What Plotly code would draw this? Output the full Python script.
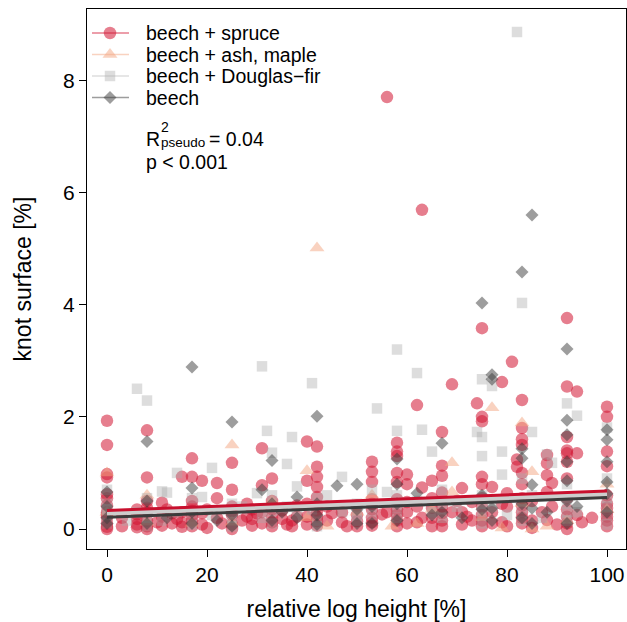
import plotly.graph_objects as go

# knot surface vs relative log height, per mixture type
spruce_height = [
    0, 0, 0, 0, 0, 0, 0, 0, 0, 0, 0, 0, 0,
    3, 3,
    6, 6, 6, 6, 6,
    8, 8, 8, 8, 8, 8, 8, 8,
    10,
    11, 11, 11,
    12,
    13, 13,
    14,
    15, 15, 15, 15,
    17, 17, 17, 17, 17, 17, 17, 17,
    19, 19, 19,
    20, 20,
    22, 22, 22,
    23,
    25, 25, 25, 25, 25, 25, 25,
    27,
    28, 28,
    29, 29, 29,
    30,
    31, 31, 31, 31,
    33, 33, 33, 33, 33, 33,
    35, 35,
    36,
    37, 37,
    38, 38,
    40, 40, 40, 40, 40,
    42, 42, 42, 42, 42, 42, 42, 42, 42, 42,
    44, 44,
    45,
    47, 47,
    48,
    50, 50, 50, 50,
    53, 53, 53, 53, 53, 53, 53, 53, 53,
    55,
    56, 56,
    58, 58, 58, 58, 58, 58, 58, 58, 58, 58,
    60, 60, 60, 60, 60,
    62, 62, 62,
    63, 63, 63,
    65, 65, 65, 65, 65,
    67, 67, 67, 67, 67, 67, 67, 67,
    69, 69,
    70,
    71, 71, 71,
    72,
    73, 73,
    74,
    75, 75, 75, 75, 75, 75, 75, 75, 75, 75,
    77, 77, 77,
    79, 79, 79,
    80, 80, 80,
    81,
    82, 82,
    83, 83, 83, 83, 83, 83, 83, 83, 83, 83, 83,
    85, 85, 85,
    87,
    88, 88, 88, 88, 88,
    89, 89,
    90,
    92, 92, 92, 92, 92, 92, 92, 92, 92, 92, 92, 92,
    94, 94, 94,
    95,
    97,
    100, 100, 100, 100, 100, 100, 100, 100, 100, 100, 100,
]
spruce_knot = [
    1.93, 1.50, 0.98, 0.92, 0.55, 0.42, 0.30, 0.20, 0.10, 0.04, 0.62, 0.25, 0.00,
    0.20, 0.05,
    0.35, 0.18, 0.08, 0.03, 0.26,
    1.76, 0.92, 0.50, 0.30, 0.15, 0.05, 0.38, 0.00,
    0.12,
    0.47, 0.22, 0.06,
    0.35,
    0.28, 0.10,
    0.18,
    0.93, 0.30, 0.12, 0.04,
    1.26, 0.93, 0.50, 0.32, 0.15, 0.05, 0.40, 0.24,
    0.86, 0.28, 0.08,
    0.35, 0.02,
    0.82, 0.55, 0.20,
    0.10,
    1.18, 0.70, 0.40, 0.25, 0.08, 0.32, 0.00,
    0.15,
    0.45, 0.22,
    0.35, 0.18, 0.06,
    0.28,
    1.44, 0.78, 0.30, 0.10,
    0.90, 0.50, 0.20, 0.05, 0.35, 0.12,
    0.33, 0.18,
    0.08,
    0.15, 0.05,
    0.42, 0.22,
    1.56, 0.86, 0.45, 0.22, 0.08,
    1.47, 1.11, 0.93, 0.75, 0.57, 0.40, 0.22, 0.06, 0.32, 0.14,
    0.40, 0.15,
    0.28,
    0.30, 0.12,
    0.05,
    0.25, 0.05, 0.42, 0.14,
    1.20, 1.02, 0.84, 0.53, 0.35, 0.20, 0.06, 0.45, 0.12,
    0.26,
    7.70, 0.30,
    1.54, 1.38, 1.30, 1.00, 0.84, 0.53, 0.35, 0.15, 0.05, 0.25,
    0.97, 0.80, 0.30, 0.10, 0.48,
    2.21, 0.40, 0.12,
    5.69, 0.74, 0.20,
    0.86, 0.20, 0.05, 0.38, 0.55,
    1.73, 1.13, 0.95, 0.65, 0.40, 0.15, 0.28, 0.05,
    2.58, 0.30,
    0.50,
    0.73, 0.30, 0.08,
    0.22,
    0.48, 0.15,
    2.24,
    3.58, 2.00, 1.92, 0.93, 0.80, 0.55, 0.25, 0.05, 0.40, 0.15,
    0.75, 0.30, 0.10,
    2.62, 0.45, 0.12,
    0.64, 0.40, 0.05,
    2.98,
    1.11, 1.24,
    2.30, 1.80, 1.60, 1.50, 1.00, 0.80, 0.55, 0.30, 0.10, 0.42, 0.20,
    0.50, 0.15, 0.02,
    0.30,
    1.32, 1.17, 0.96, 0.66, 0.16,
    0.82, 0.40,
    0.08,
    3.76, 2.54, 1.64, 1.40, 1.35, 1.20, 0.90, 0.55, 0.35, 0.10, 0.22, 0.00,
    2.45, 1.35, 0.25,
    0.12,
    0.20,
    2.18, 2.00, 1.38, 1.12, 0.60, 0.45, 0.30, 0.15, 0.05, 0.22, 0.38,
]

ash_height = [
    0, 0,
    8, 8,
    17,
    25, 25,
    33,
    40, 40,
    42,
    44,
    50,
    53,
    57,
    62,
    65,
    69, 69,
    75,
    77,
    79,
    83, 83,
    85, 85,
    88,
    92,
    100, 100,
]
ash_knot = [
    1.00, 0.30,
    0.60, 0.12,
    0.10,
    1.50, 0.12,
    0.50,
    1.04, 0.20,
    5.01,
    0.05,
    0.30,
    0.60,
    0.05,
    0.10,
    0.35,
    1.18, 0.66,
    0.20,
    2.16,
    0.02,
    1.89, 0.45,
    1.02, 0.00,
    0.05,
    0.15,
    0.35, 0.80,
]

douglas_height = [
    0, 0, 0, 0, 0,
    4,
    6, 6,
    8, 8, 8, 8,
    11, 11,
    12,
    14, 14,
    17, 17, 17,
    19,
    21, 21,
    25, 25, 25,
    27,
    30,
    31, 31,
    32,
    33, 33, 33, 33,
    36, 36,
    37,
    38, 38,
    41, 41,
    42, 42, 42,
    44,
    47, 47,
    50, 50, 50,
    53, 53,
    54,
    56,
    58, 58, 58, 58, 58,
    62, 62,
    63,
    65, 65,
    67, 67, 67,
    70,
    74,
    75, 75, 75, 75, 75, 75, 75,
    77, 77,
    79, 79,
    80,
    82,
    83, 83, 83, 83,
    85, 85,
    87,
    88,
    89,
    92, 92, 92, 92, 92,
    94, 94,
    100, 100, 100, 100, 100, 100,
]
douglas_knot = [
    0.70, 0.45, 0.25, 0.10, 0.35,
    0.15,
    2.50, 0.30,
    2.29, 0.55, 0.20, 0.05,
    0.67, 0.15,
    0.65,
    1.00, 0.30,
    0.55, 0.08, 0.28,
    0.57,
    1.09, 0.25,
    0.45, 0.05, 0.20,
    0.40,
    0.64,
    2.90, 0.20,
    1.75,
    1.36, 0.60, 0.10, 0.32,
    1.16, 0.40,
    1.64,
    0.76, 0.25,
    2.60, 0.35,
    0.55, 0.15, 0.05,
    0.60,
    0.93, 0.30,
    0.45, 0.15, 0.25,
    0.70, 0.25,
    2.15,
    0.66,
    3.20, 1.75, 0.60, 0.20, 0.38,
    2.78, 0.50,
    1.77,
    1.38, 0.30,
    0.70, 0.20, 0.45,
    0.40,
    1.73,
    2.67, 1.64, 1.30, 0.60, 0.30, 0.10, 0.45,
    2.55, 0.40,
    1.38, 0.97,
    0.25,
    8.86,
    4.03, 0.90, 0.35, 0.15,
    1.73, 0.60,
    0.20,
    1.33,
    1.18,
    2.24, 0.80, 0.45, 0.15, 0.30,
    2.02, 0.30,
    1.81, 0.90, 0.55, 0.25, 0.08, 0.40,
]

beech_height = [
    0, 0, 0, 0,
    8, 8, 8, 8,
    12,
    17, 17, 17, 17,
    22,
    25, 25, 25,
    31,
    33, 33, 33,
    35,
    38, 38,
    42, 42, 42, 42,
    46,
    50, 50, 50,
    53, 53,
    58, 58, 58, 58,
    62,
    65,
    67, 67,
    71,
    75, 75, 75,
    77, 77, 77, 77,
    83, 83, 83, 83, 83,
    85, 85, 85, 85,
    88,
    92, 92, 92, 92, 92, 92, 92,
    94,
    100, 100, 100, 100, 100, 100,
]
beech_knot = [
    0.66, 0.40, 0.20, 0.10,
    1.56, 0.50, 0.30, 0.10,
    0.20,
    2.89, 0.73, 0.30, 0.10,
    0.15,
    1.91, 0.25, 0.05,
    0.70,
    1.22, 0.45, 0.15,
    0.30,
    0.57, 0.20,
    2.01, 0.45, 0.25, 0.08,
    0.77,
    0.80, 0.35, 0.10,
    0.40, 0.10,
    1.25, 0.80, 0.45, 0.15,
    0.64,
    0.25,
    1.53, 0.30,
    0.20,
    4.03, 0.60, 0.35,
    2.75, 2.67, 0.37, 0.15,
    4.58, 1.43, 1.26, 0.45, 0.20,
    5.60, 0.79, 0.37, 0.10,
    0.30,
    3.21, 1.94, 1.68, 1.20, 0.86, 0.50, 0.10,
    0.40,
    1.77, 1.59, 1.20, 0.84, 0.63, 0.30,
]

# fitted lines (intercept, slope) per group
group_names = ["beech + spruce", "beech + ash, maple", "beech + Douglas\u2212fir", "beech"]
fit_intercept = [0.33, 0.30, 0.28, 0.21]
fit_slope = [0.0035, 0.0033, 0.0034, 0.0035]
fit_range = [0, 100]

stat_r2 = "0.04"
stat_p = "0.001"

pt_col = ["rgba(210,20,50,0.55)", "rgba(244,165,130,0.5)",
          "rgba(170,170,170,0.4)", "rgba(60,60,60,0.5)"]
fit_col = ["rgb(200,16,46)", "rgb(246,190,165)", "rgb(205,205,205)", "rgb(60,60,60)"]
fit_w = [3, 3, 4.5, 3]
symbols = ["circle", "triangle-up", "square", "diamond"]
sizes = [12.5, 13, 10.5, 10]

xs = [spruce_height, ash_height, douglas_height, beech_height]
ys = [spruce_knot, ash_knot, douglas_knot, beech_knot]

fig = go.Figure()

for i in range(4):
    fig.add_trace(go.Scatter(
        x=xs[i], y=ys[i], mode="markers", showlegend=False,
        marker=dict(symbol=symbols[i], size=sizes[i], color=pt_col[i],
                    line=dict(width=0)),
        hoverinfo="x+y", name=group_names[i]))

for i in [1, 2, 0, 3]:
    fx = fit_range
    fy = [fit_intercept[i] + fit_slope[i] * v for v in fx]
    fig.add_trace(go.Scatter(x=fx, y=fy, mode="lines", showlegend=False,
                             line=dict(color=fit_col[i], width=fit_w[i])))

# hand-drawn legend on a pixel-like overlay axis
leg_rows = [33, 54.5, 76, 97.5]
for i in range(4):
    fig.add_trace(go.Scatter(
        x=[92, 129], y=[leg_rows[i], leg_rows[i]], mode="lines",
        line=dict(color=pt_col[i], width=1.5), showlegend=False,
        xaxis="x2", yaxis="y2", hoverinfo="skip"))
    fig.add_trace(go.Scatter(
        x=[110], y=[leg_rows[i]], mode="markers", showlegend=False,
        marker=dict(symbol=symbols[i], size=sizes[i], color=pt_col[i], line=dict(width=0)),
        xaxis="x2", yaxis="y2", hoverinfo="skip"))

def note(x, y, text, size):
    return dict(x=x, y=y, xref="x2", yref="y2", text=text, showarrow=False,
                xanchor="left", yanchor="middle", font=dict(size=size), borderpad=0)

annots = [note(145, leg_rows[i], group_names[i], 19.5) for i in range(4)]
# R^2 with stacked super/subscript, as in plotmath
annots.append(note(145, 139, "R", 19.5))
annots.append(note(160, 127, "2", 14))
annots.append(note(160, 142.5, "pseudo", 13.5))
annots.append(note(208, 139, "= " + stat_r2, 19.5))
annots.append(note(145, 162, "p < " + stat_p, 19.5))

axis_common = dict(showline=True, linecolor="black", linewidth=1, mirror=True,
                   ticks="outside", ticklen=7, tickwidth=1, tickcolor="black",
                   showgrid=False, zeroline=False, tickfont=dict(size=21))

fig.update_layout(
    width=627, height=622,
    margin=dict(l=87, r=1, t=9, b=73),
    paper_bgcolor="white", plot_bgcolor="white",
    font=dict(family="Liberation Sans, Arial, sans-serif", color="black"),
    xaxis=dict(range=[-4, 103.8], tickvals=[0, 20, 40, 60, 80, 100],
               title=dict(text="relative log height [%]", font=dict(size=23), standoff=15),
               **axis_common),
    yaxis=dict(range=[-0.356, 9.27], tickvals=[0, 2, 4, 6, 8],
               title=dict(text="knot surface [%]", font=dict(size=23), standoff=25),
               **axis_common),
    xaxis2=dict(overlaying="x", range=[87, 626], visible=False, fixedrange=True),
    yaxis2=dict(overlaying="y", range=[549, 9], visible=False, fixedrange=True),
    annotations=annots,
    showlegend=False,
)

# drop the page's default body margin so the figure sits at the window corner
fig.write_html("out.html", config={"displayModeBar": False},
               post_script="document.body.style.margin='0';")
